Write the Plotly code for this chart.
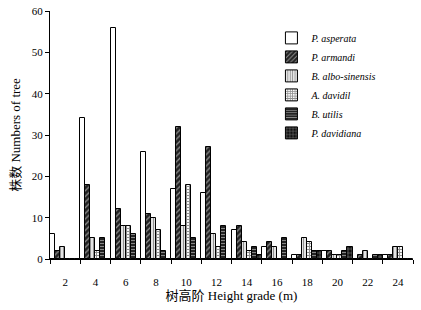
import plotly.graph_objects as go

grades = ["2", "4", "6", "8", "10", "12", "14", "16", "18", "20", "22", "24"]
series_names = ["P. asperata", "P. armandi", "B. albo-sinensis", "A. davidil", "B. utilis", "P. davidiana"]
p_asperata = [6, 34, 56, 26, 17, 16, 7, 3, 1, 2, 0, 1]
p_armandi = [2, 18, 12, 11, 32, 27, 8, 4, 1, 2, 1, 1]
b_albo = [3, 5, 8, 10, 8, 6, 4, 3, 5, 1, 2, 3]
a_davidil = [0, 2, 8, 7, 18, 3, 2, 0, 4, 1, 0, 3]
b_utilis = [0, 5, 6, 2, 5, 8, 3, 5, 2, 2, 1, 0]
p_davidiana = [0, 0, 0, 0, 0, 0, 1, 0, 2, 3, 1, 0]

values = [p_asperata, p_armandi, b_albo, a_davidil, b_utilis, p_davidiana]
styles = [
    dict(color="white", pattern=dict(shape="")),
    dict(color="black", pattern=dict(shape="/", fgcolor="white", bgcolor="#222", size=4, solidity=0.3)),
    dict(color="white", pattern=dict(shape="|", fgcolor="#222", bgcolor="white", size=3, solidity=0.5)),
    dict(color="white", pattern=dict(shape="+", fgcolor="#222", bgcolor="white", size=3, solidity=0.6)),
    dict(color="black", pattern=dict(shape="-", fgcolor="white", bgcolor="#222", size=3, solidity=0.3)),
    dict(color="black", pattern=dict(shape="+", fgcolor="white", bgcolor="#111", size=4, solidity=0.25)),
]

serif = "Liberation Serif, Noto Sans CJK SC, serif"
fig = go.Figure()
for name, vals, st in zip(series_names, values, styles):
    fig.add_trace(go.Bar(
        x=grades, y=vals, name=name,
        marker=dict(color=st["color"], pattern=st["pattern"], line=dict(color="black", width=1)),
    ))

fig.update_layout(
    width=421, height=310,
    margin=dict(l=50, r=8, t=11, b=51, autoexpand=False),
    paper_bgcolor="white", plot_bgcolor="white",
    barmode="group", bargap=0, bargroupgap=0,
    font=dict(family=serif, size=11, color="black"),
    showlegend=True,
    legend=dict(x=0.61, y=0.95, xanchor="left", yanchor="top",
                font=dict(family=serif, size=10, style="italic"),
                bgcolor="rgba(0,0,0,0)", tracegroupgap=0, itemwidth=30),
    xaxis=dict(type="category", tickson="boundaries", ticks="outside", ticklen=4,
               tickcolor="black", showline=True, linecolor="black", linewidth=1,
               showgrid=False, tickfont=dict(size=11), automargin=False,
               ticklabelstandoff=13,
               title=dict(text="树高阶 Height grade (m)", font=dict(size=13), standoff=3)),
    yaxis=dict(range=[0, 60], dtick=10, ticks="outside", ticklen=4, tickcolor="black",
               showline=True, linecolor="black", linewidth=1, showgrid=False,
               zeroline=False, tickfont=dict(size=11), automargin=False,
               title=dict(text="株数 Numbers of tree", font=dict(size=13), standoff=8)),
)
fig.write_html("out.html", config={"displayModeBar": False},
               post_script="document.body.style.margin='0px';")
